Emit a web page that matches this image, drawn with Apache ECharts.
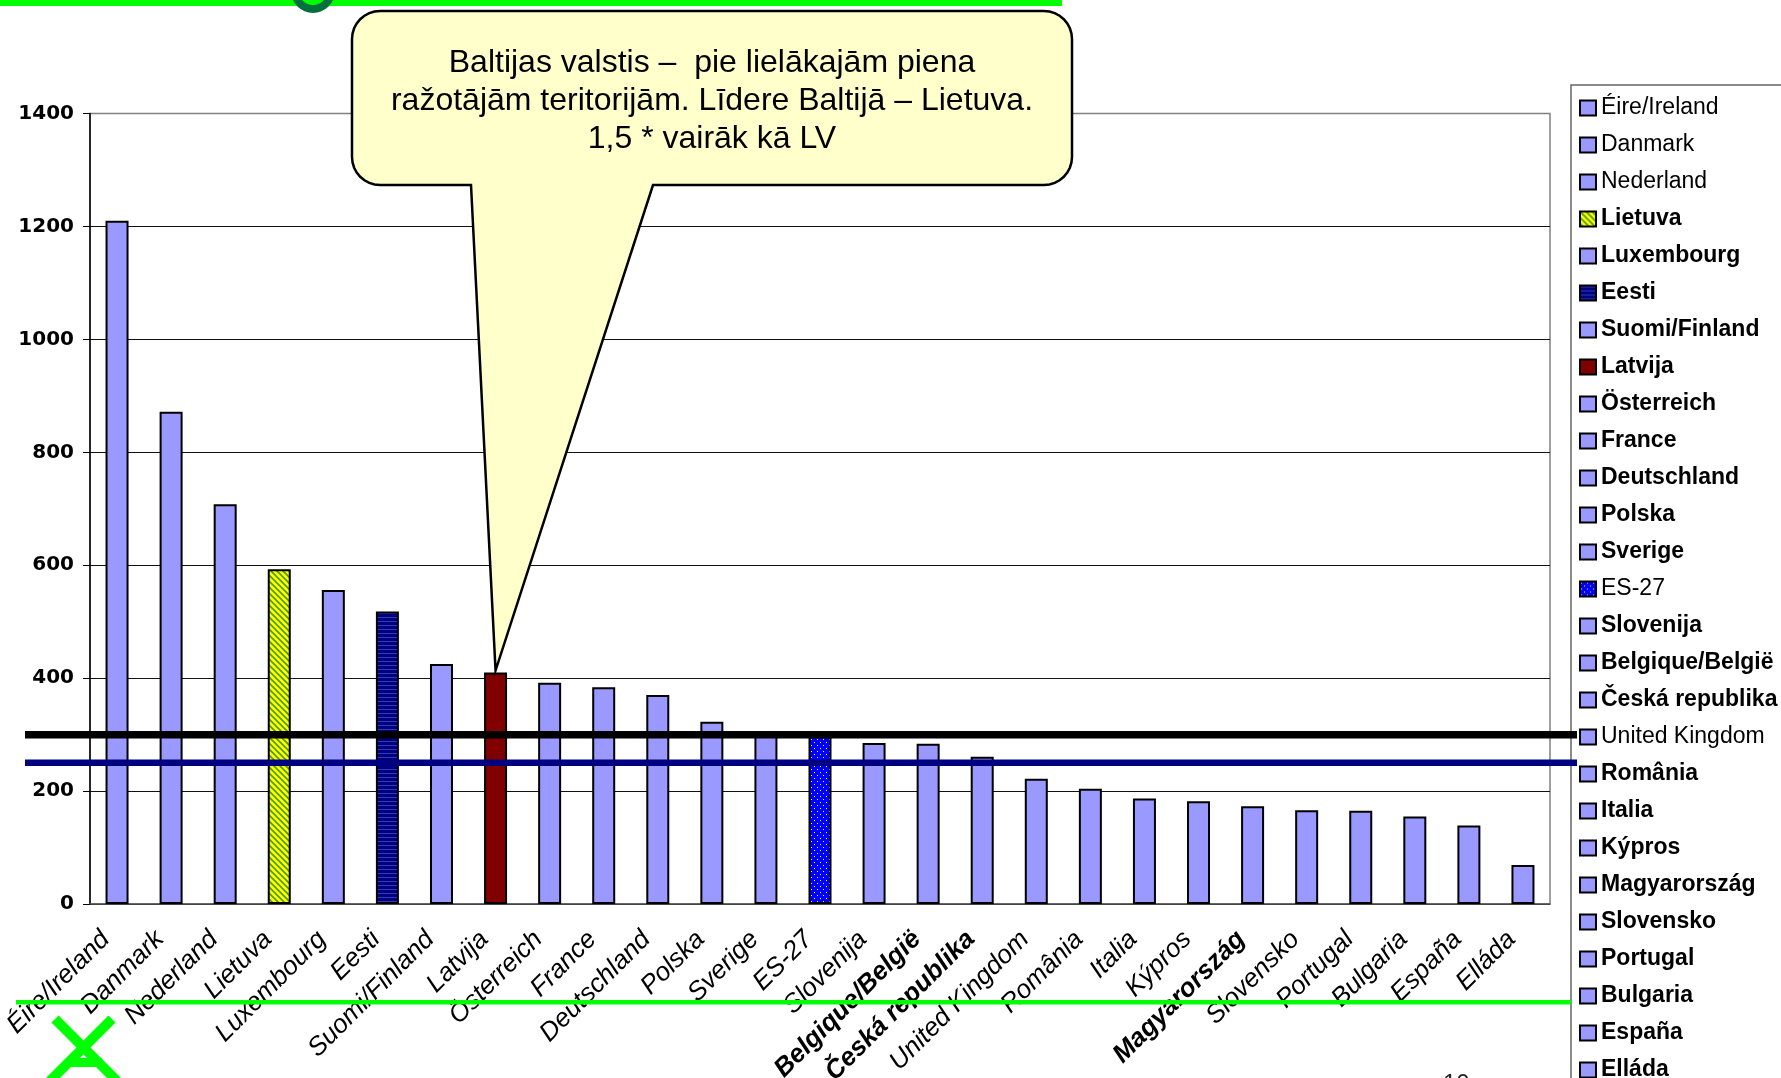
<!DOCTYPE html>
<html>
<head>
<meta charset="utf-8">
<script src="https://cdn.jsdelivr.net/npm/echarts@6/dist/echarts.min.js"></script>
<style>
  html, body { margin: 0; padding: 0; background: #fff; }
  #main { width: 1781px; height: 1078px; }
</style>
</head>
<body>
<div id="main"></div>
<script>
const countries = ['Éire/Ireland', 'Danmark', 'Nederland', 'Lietuva', 'Luxembourg', 'Eesti',
    'Suomi/Finland', 'Latvija', 'Österreich', 'France', 'Deutschland', 'Polska', 'Sverige',
    'ES-27', 'Slovenija', 'Belgique/België', 'Česká republika', 'United Kingdom', 'România',
    'Italia', 'Kýpros', 'Magyarország', 'Slovensko', 'Portugal', 'Bulgaria', 'España', 'Elláda'];
const values = [1210, 872, 708, 593, 556, 518, 425, 410, 392, 384, 370, 323, 299,
    297, 285, 284, 261, 222, 204, 187, 182, 173, 166, 165, 155, 139, 69];
const yTicks = [0, 200, 400, 600, 800, 1000, 1200, 1400];
// reference lines drawn across the chart
const blackLineValue = 300;
const blueLineValue = 250;
// axis labels shown in bold
const boldAxisLabels = ['Belgique/België', 'Česká republika', 'Magyarország'];
const normalLegend = ['Éire/Ireland', 'Danmark', 'Nederland', 'ES-27', 'United Kingdom'];
const calloutLines = ['Baltijas valstis –  pie lielākajām piena',
    'ražotājām teritorijām. Līdere Baltijā – Lietuva.',
    '1,5 * vairāk kā LV'];

const FONT = '"Liberation Sans", Arial, sans-serif';

function makePattern(size, draw) {
    let c = document.createElement('canvas');
    c.width = size;
    c.height = size;
    let ctx = c.getContext('2d');
    draw(ctx, size);
    return { image: c, repeat: 'repeat' };
}

let hatchGreen = makePattern(6, (ctx, s) => {
    ctx.fillStyle = '#ffff00';
    ctx.fillRect(0, 0, s, s);
    ctx.strokeStyle = '#4d9a1a';
    ctx.lineWidth = 1.6;
    ctx.beginPath();
    ctx.moveTo(-1, -1); ctx.lineTo(s + 1, s + 1);
    ctx.moveTo(-1, s - 1); ctx.lineTo(1, s + 1);
    ctx.moveTo(s - 1, -1); ctx.lineTo(s + 1, 1);
    ctx.stroke();
});
let stripeNavy = makePattern(4, (ctx, s) => {
    ctx.fillStyle = '#000080';
    ctx.fillRect(0, 0, s, s);
    ctx.fillStyle = '#2f3fb0';
    ctx.fillRect(0, 1, s, 1);
});
let dotBlue = makePattern(6, (ctx, s) => {
    ctx.fillStyle = '#0000ff';
    ctx.fillRect(0, 0, s, s);
    ctx.fillStyle = '#ffff66';
    ctx.fillRect(1, 1, 1, 1);
    ctx.fillRect(4, 4, 1, 1);
});

function colorFor(name) {
    if (name === 'Lietuva') return hatchGreen;
    if (name === 'Eesti') return stripeNavy;
    if (name === 'Latvija') return '#800000';
    if (name === 'ES-27') return dotBlue;
    return '#9999ff';
}

let chartDom = document.getElementById('main');
let myChart = echarts.init(chartDom);

let series = countries.map((name, i) => ({
    name: name,
    type: 'bar',
    stack: 'all',
    barWidth: 23,
    data: countries.map((c, j) => (j === i ? values[i] : '-')),
    itemStyle: { color: colorFor(name), borderColor: '#000', borderWidth: 2 },
    emphasis: { disabled: true }
}));

let splitColors = yTicks.map((t, i) => (i === yTicks.length - 1 ? '#808080' : '#111'));

// legend rows are 37px apart; the last one gets its own block so it does not wrap
const legendTop = 96.5;
const legendStep = 37;
function legendBlock(names, top) {
    return {
        orient: 'vertical',
        left: 1579,
        top: top,
        padding: 0,
        itemGap: 14,
        itemWidth: 16,
        itemHeight: 15,
        icon: 'rect',
        selectedMode: false,
        itemStyle: { borderColor: '#000', borderWidth: 2 },
        textStyle: { fontFamily: FONT, fontSize: 23, fontWeight: 'bold', color: '#000' },
        data: names.map(c => normalLegend.includes(c)
            ? { name: c, textStyle: { fontWeight: 'normal' } }
            : { name: c })
    };
}

let option = {
    animation: false,
    backgroundColor: '#fff',
    grid: {
        left: 90, right: 231, top: 113.6, bottom: 174,
        outerBoundsMode: 'none',
        containLabel: false,
        show: true, borderColor: '#808080', borderWidth: 1.5
    },
    legend: [
        legendBlock(countries.slice(0, 26), legendTop),
        legendBlock(countries.slice(26), legendTop + 26 * legendStep)
    ],
    xAxis: {
        type: 'category',
        data: countries,
        axisLine: { lineStyle: { color: '#555', width: 1.5 } },
        axisTick: { length: 7, lineStyle: { color: '#333' } },
        axisLabel: {
            rotate: 45,
            interval: 0,
            margin: 20,
            padding: [0, 16, 0, 0],
            formatter: v => (boldAxisLabels.includes(v) ? '{b|' + v + '}' : '{n|' + v + '}'),
            rich: {
                n: { fontFamily: FONT, fontSize: 26, fontStyle: 'italic', color: '#000' },
                b: { fontFamily: FONT, fontSize: 26, fontStyle: 'italic', fontWeight: 'bold', color: '#000' }
            }
        }
    },
    yAxis: {
        type: 'value',
        min: yTicks[0],
        max: yTicks[yTicks.length - 1],
        interval: yTicks[1] - yTicks[0],
        axisLine: { show: true, lineStyle: { color: '#000', width: 1.5 } },
        axisTick: { show: true, length: 7, lineStyle: { color: '#000' } },
        axisLabel: {
            fontFamily: '"DejaVu Sans", sans-serif', fontSize: 20, fontWeight: 'bold',
            color: '#000', margin: 16, formatter: v => String(v)
        },
        splitLine: { lineStyle: { color: splitColors, width: 1 } }
    },
    series: series
};

option && myChart.setOption(option);

// overlay lines and callout, positioned with the chart's own scales
let yBlack = myChart.convertToPixel({ yAxisIndex: 0 }, blackLineValue);
let yBlue = myChart.convertToPixel({ yAxisIndex: 0 }, blueLineValue);
let li = countries.indexOf('Latvija');
let tip = myChart.convertToPixel({ gridIndex: 0 }, [li, values[li]]);

// rounded callout box with a pointer on its bottom edge
function calloutPoints(x1, y1, x2, y2, r, baseL, baseR, tx, ty) {
    let pts = [];
    function corner(cx, cy, a0) {
        for (let k = 0; k <= 8; k++) {
            let a = (a0 + k * 90 / 8) * Math.PI / 180;
            pts.push([cx + r * Math.cos(a), cy + r * Math.sin(a)]);
        }
    }
    corner(x1 + r, y1 + r, 180);
    corner(x2 - r, y1 + r, 270);
    corner(x2 - r, y2 - r, 0);
    pts.push([baseR, y2], [tx, ty], [baseL, y2]);
    corner(x1 + r, y2 - r, 90);
    return pts;
}

myChart.setOption({
    graphic: [
        // legend frame, runs off the page
        { type: 'rect', z: 1, shape: { x: 1571, y: 85, width: 400, height: 1100 },
          style: { fill: 'none', stroke: '#666', lineWidth: 1.5 } },
        // slide decorations
        { type: 'rect', z: 1, shape: { x: 0, y: 0, width: 1062, height: 6 }, style: { fill: '#00ff00' } },
        { type: 'ring', z: 2, shape: { cx: 313, cy: -9, r: 22, r0: 14 }, style: { fill: '#00703c' } },
        { type: 'rect', z: 1, shape: { x: 16, y: 1000, width: 1555, height: 4.5 }, style: { fill: '#00ff00' } },
        { type: 'polyline', z: 2, shape: { points: [[55, 1019], [127, 1091]] }, style: { stroke: '#00ff00', lineWidth: 10 } },
        { type: 'polyline', z: 2, shape: { points: [[112, 1019], [40, 1091]] }, style: { stroke: '#00ff00', lineWidth: 10 } },
        { type: 'rect', z: 2, shape: { x: 66, y: 1058, width: 36, height: 9 }, style: { fill: '#00ff00' } },
        { type: 'text', z: 2, x: 1443, y: 1072,
          style: { text: '10', font: '24px ' + FONT, fill: '#222' } },
        // reference lines
        { type: 'line', z: 50, shape: { x1: 25, y1: yBlack, x2: 1577, y2: yBlack },
          style: { stroke: '#000', lineWidth: 7.5 } },
        { type: 'line', z: 50, shape: { x1: 25, y1: yBlue, x2: 1577, y2: yBlue },
          style: { stroke: '#000080', lineWidth: 6.5 } },
        // callout
        { type: 'polygon', z: 60,
          shape: { points: calloutPoints(352, 11, 1072, 185, 28, 471, 653, tip[0], tip[1] - 2) },
          style: { fill: '#ffffcc', stroke: '#000', lineWidth: 2.5 } },
        { type: 'text', z: 61, x: 712, y: 101,
          style: { text: calloutLines.join('\n'), font: '32px ' + FONT, lineHeight: 38,
                   fill: '#000', textAlign: 'center', textVerticalAlign: 'middle' } }
    ]
});
</script>
</body>
</html>
